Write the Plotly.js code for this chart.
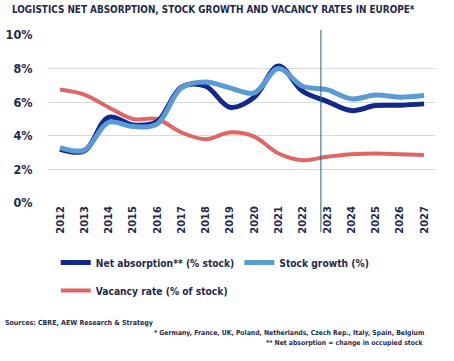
<!DOCTYPE html>
<html>
<head>
<meta charset="utf-8">
<script src="https://cdn.plot.ly/plotly-3.0.1.min.js"></script>
<style>html,body{margin:0;padding:0;background:#fff;}#chart{width:454px;height:361px;}</style>
</head>
<body>
<div id="chart"></div>
<script>
const years = [2012,2013,2014,2015,2016,2017,2018,2019,2020,2021,2022,2023,2024,2025,2026,2027];
const yearLabels = years.map(String);
const netAbsorption = [3.2,3.1,5.1,4.65,4.85,6.9,6.95,5.7,6.3,8.15,6.65,6.05,5.5,5.8,5.82,5.9];
const stockGrowth = [3.3,3.15,4.8,4.55,4.7,6.85,7.2,6.85,6.55,8.0,6.95,6.75,6.2,6.43,6.3,6.4];
const vacancyRate = [6.75,6.45,5.7,5.0,5.0,4.2,3.8,4.2,3.95,2.95,2.55,2.75,2.9,2.95,2.9,2.85];
const forecastStart = 2022.75;

const FONT = '"DejaVu Sans Condensed","Liberation Sans Narrow",sans-serif';
const TXT = '#1f2a4d';

const traces = [
  {x: years, y: vacancyRate, name: 'Vacancy rate (% of stock)', mode: 'lines', legend: 'legend2',
   line: {color: '#e06666', width: 4, shape: 'spline', smoothing: 1}},
  {x: years, y: netAbsorption, name: 'Net absorption** (% stock)', mode: 'lines',
   line: {color: '#13288c', width: 5, shape: 'spline', smoothing: 1}},
  {x: years, y: stockGrowth, name: 'Stock growth (%)', mode: 'lines',
   line: {color: '#5b9bd5', width: 5, shape: 'spline', smoothing: 1}}
];

const legFont = {family: FONT, size: 10.2, color: TXT, weight: 'bold'};
const layout = {
  width: 454, height: 361,
  margin: {l: 48, r: 19, t: 35, b: 158},
  paper_bgcolor: '#fff', plot_bgcolor: '#fff',
  font: {family: FONT, color: TXT, size: 12},
  showlegend: true,
  legend: {orientation: 'h', x: 0.02, xanchor: 'left', y: -0.268, yanchor: 'top',
           font: legFont, traceorder: 'normal', itemwidth: 30, bgcolor: 'rgba(0,0,0,0)'},
  legend2: {orientation: 'h', x: 0.02, xanchor: 'left', y: -0.435, yanchor: 'top',
           font: legFont, itemwidth: 30, bgcolor: 'rgba(0,0,0,0)'},
  xaxis: {range: [2011.506, 2027.45], tickvals: years, ticktext: yearLabels,
          tickangle: -90, showgrid: false, zeroline: false, showline: false,
          ticks: '', tickfont: {family: FONT, size: 11, color: TXT, weight: 'bold'}},
  yaxis: {range: [0, 10], dtick: 2, ticksuffix: '%', showgrid: true, gridcolor: '#d6d9de',
          gridwidth: 1, zeroline: false, showline: false, ticks: 'outside', ticklen: 12,
          tickcolor: 'rgba(0,0,0,0)',
          tickfont: {family: FONT, size: 12.5, color: TXT, weight: 'bold'}},
  shapes: [{type: 'line', xref: 'x', yref: 'paper', x0: forecastStart, x1: forecastStart,
            y0: 1.03, y1: -0.173, line: {color: '#2e5f78', width: 1}}],
  annotations: [
    {text: 'LOGISTICS NET ABSORPTION, STOCK GROWTH AND VACANCY RATES IN EUROPE*',
     xref: 'paper', yref: 'paper', x: -0.098, y: 1.149, xanchor: 'left', yanchor: 'middle',
     showarrow: false, font: {family: FONT, size: 9.9, color: TXT, weight: 'bold'}},
    {text: 'Sources: CBRE, AEW Research & Strategy', xref: 'paper', yref: 'paper',
     x: -0.116, y: -0.714, xanchor: 'left', yanchor: 'middle', showarrow: false,
     font: {family: FONT, size: 7, color: TXT, weight: 'bold'}},
    {text: '* Germany, France, UK, Poland, Netherlands, Czech Rep., Italy, Spain, Belgium',
     xref: 'paper', yref: 'paper', x: 0.977, y: -0.774, xanchor: 'right', yanchor: 'middle',
     showarrow: false, font: {family: FONT, size: 6.8, color: TXT, weight: 'bold'}},
    {text: '** Net absorption = change in occupied stock',
     xref: 'paper', yref: 'paper', x: 0.977, y: -0.833, xanchor: 'right', yanchor: 'middle',
     showarrow: false, font: {family: FONT, size: 6.8, color: TXT, weight: 'bold'}}
  ]
};

Plotly.newPlot('chart', traces, layout, {displayModeBar: false, staticPlot: true});
</script>
</body>
</html>
